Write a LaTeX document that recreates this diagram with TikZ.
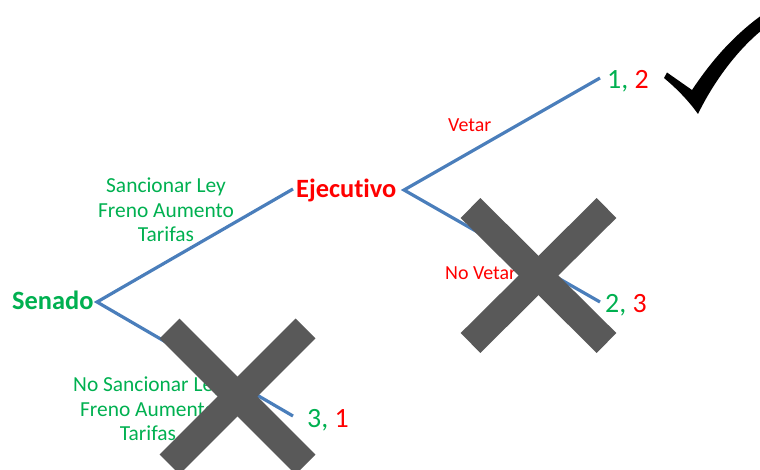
\documentclass[tikz,border=0pt]{standalone}
\usepackage{fontspec}
\setmainfont{Carlito}[Ligatures=NoCommon]
\definecolor{branch}{HTML}{4A7EBB}
\definecolor{pgreen}{HTML}{00B050}
\definecolor{pred}{HTML}{FF0000}
\definecolor{crossgray}{HTML}{595959}
\begin{document}
\begin{tikzpicture}[x=1bp,y=-1bp,
  player/.style={inner sep=0pt, font=\bfseries\fontsize{26.5}{30}\selectfont},
  payoff/.style={inner sep=0pt, font=\fontsize{28}{32}\selectfont},
  move/.style={inner sep=0pt, font=\fontsize{20}{24}\selectfont, text=pred},
  action/.style={inner sep=0pt, align=center, text=pgreen, font=\fontsize{21.5}{24.5}\selectfont},
  edge/.style={draw=branch, line width=3.2bp, line join=miter},
  xmark/.style={draw=crossgray, line width=28bp},
]
\useasboundingbox (0,0) rectangle (760,470);

% branch points and leaf ends
\coordinate (sv) at (97,302);
\coordinate (ein) at (293,189);
\coordinate (ev) at (404,190);
\coordinate (t12) at (600,78);
\coordinate (t23) at (600,302);
\coordinate (t31) at (293,416);

% game tree
\path[edge] (ein) -- (sv) -- (t31);
\path[edge] (t12) -- (ev) -- (t23);

% decision makers
\node[player, text=pgreen, anchor=base west] (senado) at (12,310) {Senado};
\node[player, text=pred, anchor=base west] (ejec) at (296,198) {Ejecutivo};

% actions
\node[action] (sanc) at (166,210) {Sancionar Ley\\Freno Aumento\\Tarifas};
\node[action] (nosanc) at (148,409) {No Sancionar Ley\\Freno Aumento\\Tarifas};
\node[move, anchor=base west] (vetar) at (448,132) {Vetar};
\node[move, anchor=base west] (novetar) at (445,280) {No Vetar};

% payoffs (Senado, Ejecutivo)
\node[payoff, anchor=base west] (p12) at (607,89) {\textcolor{pgreen}{1,} \textcolor{pred}{2}};
\node[payoff, anchor=base west] (p23) at (605,313) {\textcolor{pgreen}{2,} \textcolor{pred}{3}};
\node[payoff, anchor=base west] (p31) at (307,427) {\textcolor{pgreen}{3,} \textcolor{pred}{1}};

% discarded branches
\coordinate (xa1) at (470.5,208);
\coordinate (xa2) at (606.5,343);
\coordinate (xb1) at (606.5,208);
\coordinate (xb2) at (470.5,343);
\path[xmark] (xa1) -- (xa2);
\path[xmark] (xb1) -- (xb2);
\coordinate (ya1) at (169.5,328.5);
\coordinate (ya2) at (305.5,464.5);
\coordinate (yb1) at (305.5,328.5);
\coordinate (yb2) at (169.5,464.5);
\path[xmark] (ya1) -- (ya2);
\path[xmark] (yb1) -- (yb2);

% chosen outcome
\fill[black] (664,78) -- (667,72.5) -- (692,90)
  .. controls (708,66) and (730,38) .. (762,15)
  -- (762,30)
  .. controls (735,52) and (712,85) .. (698,114)
  .. controls (688,100) and (676,88) .. cycle;
\end{tikzpicture}
\end{document}
